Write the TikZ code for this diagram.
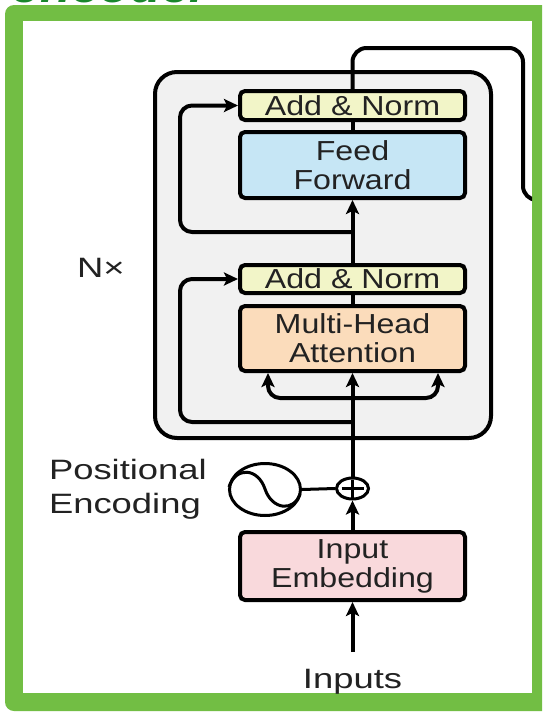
\documentclass[tikz,border=0pt]{standalone}
\usepackage{fontspec}
\setmainfont{Liberation Sans}[FakeStretch=1.17]
\newfontfamily\lblfont{Liberation Sans}[FakeStretch=1.3]
\newfontfamily\ttlfont{Liberation Sans}[FakeStretch=1.1]
\usetikzlibrary{arrows.meta,shapes.geometric}
\definecolor{framegreen}{RGB}{114,190,68}
\definecolor{titlegreen}{RGB}{25,135,45}
\definecolor{txt}{RGB}{34,34,34}
\definecolor{graybg}{RGB}{241,241,241}
\definecolor{anfill}{RGB}{242,245,200}
\definecolor{fffill}{RGB}{198,230,245}
\definecolor{mhafill}{RGB}{251,220,187}
\definecolor{iefill}{RGB}{249,217,220}
\begin{document}
\begin{tikzpicture}[x=1pt,y=-1pt,line width=4pt,
  blk/.style={draw=black,rounded corners=5pt,minimum width=225pt,text=txt,align=center,
    font=\fontsize{27.5}{29}\selectfont,inner sep=0pt},
  arr/.style={-{Stealth[length=14pt,width=13pt,inset=3pt]}},
  lbl/.style={text=txt,font=\lblfont\fontsize{28}{34}\selectfont,inner sep=0pt},
  ring/.style={draw=black,ellipse,inner sep=0pt,line width=3pt}]
\useasboundingbox (0,0) rectangle (542,713);
\clip (0,0) rectangle (542,713);
\fill[white] (0,0) rectangle (542,713);
% title (cropped at top)
\node[anchor=base west,text=titlegreen,font=\ttlfont\bfseries\itshape\fontsize{46}{50}\selectfont,inner sep=0pt] (title) at (10,2) {encoder};
% green frame
\fill[framegreen,rounded corners=9pt] (5,5) rectangle (560,711);
\fill[white] (23,21) rectangle (532,693);
\begin{scope}
\clip (23,21) rectangle (532,693);
% encoder block background
\draw[fill=graybg,rounded corners=22pt] (155,72) rectangle (491,438);
% boxes
\node[blk,fill=anfill,minimum height=29pt] (an1) at (352.5,105.5) {Add \& Norm};
\node[blk,fill=fffill,minimum height=66pt] (ff) at (352.5,165) {Feed\\Forward};
\node[blk,fill=anfill,minimum height=28pt] (an2) at (352.5,279) {Add \& Norm};
\node[blk,fill=mhafill,minimum height=65pt] (mha) at (352.5,338.5) {Multi-Head\\Attention};
\node[blk,fill=iefill,minimum height=68pt] (ie) at (352.5,566) {Input\\Embedding};
% labels
\node[lbl,anchor=base west] (nx) at (75,277) {N×};
\node[lbl,anchor=base west] (pos) at (47,479) {Positional};
\node[lbl,anchor=base west] (enc) at (47,513) {Encoding};
\node[lbl,anchor=base] (inp) at (352.5,688) {Inputs};
% positional encoding symbol and adder
\node[ring,minimum width=71pt,minimum height=52pt] (pe) at (265,489.5) {};
\draw[line width=3pt] (229,487) .. controls (236,466) and (258,468) .. (265,489)
  .. controls (272,510) and (294,512) .. (300,494);
\node[ring,minimum width=32pt,minimum height=21pt] (plus) at (352.5,488.5) {};
\draw[line width=2.5pt] ([xshift=-11pt]plus.center) -- ([xshift=11pt]plus.center)
  ([yshift=-9pt]plus.center) -- ([yshift=9pt]plus.center);
% coordinates
\coordinate (src) at (352.5,652);
\coordinate (fork) at (352.5,398);
\coordinate (res2) at (352.5,422);
\coordinate (res1) at (352.5,232);
\coordinate (outTL) at (352.5,48);
\coordinate (outTR) at (523,48);
\coordinate (outBR) at (523,200);
\coordinate (outEnd) at (560,200);
% connectors
\draw[arr] (src) -- (ie.south);
\draw[arr] (ie.north) -- (plus.south);
\draw[line width=3pt] (pe.east) -- (plus.west);
\draw[arr] (plus.north) -- (mha.south);
\draw[arr,rounded corners=12pt] (fork) -| ([xshift=-84.5pt]mha.south);
\draw[arr,rounded corners=12pt] (fork) -| ([xshift=85.5pt]mha.south);
\draw[arr,rounded corners=12pt] (res2) -| ([xshift=-58pt]an2.west) -- (an2.west);
\draw (mha.north) -- (an2.south);
\draw[arr] (an2.north) -- (ff.south);
\draw[arr,rounded corners=12pt] (res1) -| ([xshift=-58pt]an1.west) -- (an1.west);
\draw (ff.north) -- (an1.south);
\draw[rounded corners=14pt] (an1.north) -- (outTL) -- (outTR) -- (outBR) -- (outEnd);
\end{scope}
\end{tikzpicture}
\end{document}
